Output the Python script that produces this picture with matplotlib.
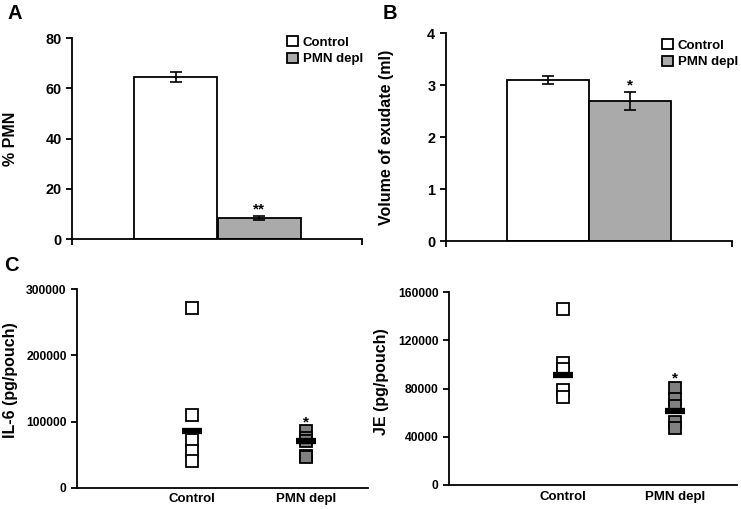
import matplotlib.pyplot as plt
import numpy as np

plt.rcParams['font.family'] = ['Liberation Sans', 'DejaVu Sans']
plt.rcParams['font.weight'] = 'bold'

# panel A / B bar data
groups = ["Control", "PMN depl"]
pmn_mean = [64.5, 8.6]
pmn_err = [2.0, 0.8]
vol_mean = [3.10, 2.70]
vol_err = [0.08, 0.17]

# panel C / D individual values
il6_control = [271000, 110000, 72000, 55000, 41000]
il6_pmn = [85000, 75000, 70000, 48000, 46000]
il6_means = [86000, 70500]
je_control = [146500, 101000, 96000, 79000, 73000]
je_pmn = [80500, 71000, 66000, 52000, 47000]
je_means = [91500, 61500]

bar_colors = ["white", "#aaaaaa"]
dot_colors = ["white", "#808080"]

W, H = 741, 509
fig = plt.figure(figsize=(W / 100, H / 100), dpi=100)


def style_axes(ax, ylabel, label_x, label_y, ticksize):
    for s in ["top", "right"]:
        ax.spines[s].set_visible(False)
    for s in ["left", "bottom"]:
        ax.spines[s].set_linewidth(1.3)
    ax.tick_params(axis="both", direction="out", width=1.3, length=4, labelsize=ticksize)
    for lab in ax.get_yticklabels():
        lab.set_fontweight("bold")
    ax.set_ylabel(ylabel, fontsize=11.5, fontweight="bold")
    ax.yaxis.set_label_coords(label_x, label_y)


def bar_panel(rect, means, errs, ylim, yticks, ylabel, label_x, star, star_y, leg_xy):
    ax = fig.add_axes(rect)
    centers = [0.357, 0.645]
    for i in range(2):
        ax.bar(centers[i], means[i], width=0.287, color=bar_colors[i],
               edgecolor="black", linewidth=1.3, label=groups[i], zorder=2)
        ax.errorbar(centers[i], means[i], yerr=errs[i], fmt="none", ecolor="black",
                    elinewidth=1.2, capsize=4, capthick=1.2, zorder=3)
    ax.text(centers[1], star_y, star, ha="center", va="bottom", fontsize=11, fontweight="bold")
    ax.set_xlim(0, 1)
    ax.set_ylim(*ylim)
    ax.set_yticks(yticks)
    ax.set_xticks([0, 1])
    ax.set_xticklabels(["", ""])
    style_axes(ax, ylabel, label_x, 0.5, 10.4)
    leg = ax.legend(loc="upper left", bbox_to_anchor=(leg_xy[0] / W, 1 - leg_xy[1] / H),
                    bbox_transform=fig.transFigure, frameon=False, borderpad=0,
                    borderaxespad=0, fontsize=9.5, handlelength=0.8, handleheight=0.8,
                    handletextpad=0.4, labelspacing=0.3)
    for t in leg.get_texts():
        t.set_fontweight("bold")
    return ax


def dot_panel(rect, ctrl, pmn, means, ylim, yticks, ylabel, label_x, label_y, star_y):
    ax = fig.add_axes(rect)
    xs = [0.395, 0.785]
    for i, vals in enumerate([ctrl, pmn]):
        ax.plot([xs[i]] * len(vals), vals, "s", markersize=8, markerfacecolor=dot_colors[i],
                markeredgecolor="black", markeredgewidth=1.3, linestyle="none", zorder=2)
        ax.plot(xs[i], means[i], marker="_", markersize=15, markeredgewidth=4.5,
                color="black", zorder=3)
    ax.text(xs[1], star_y, "*", ha="center", va="bottom", fontsize=11, fontweight="bold")
    ax.set_xlim(0, 1)
    ax.set_ylim(*ylim)
    ax.set_yticks(yticks)
    ax.set_xticks(xs)
    ax.set_xticklabels(groups, fontsize=9.5, fontweight="bold")
    style_axes(ax, ylabel, label_x, label_y, 8.7)
    ax.tick_params(axis="x", length=0, pad=4, labelsize=9.5)
    return ax


bar_panel([0.0976, 0.530, 0.391, 0.395], pmn_mean, pmn_err, (0, 80), [0, 20, 40, 60, 80],
          "% PMN", -0.186, "**", 9.2, (287, 36))
bar_panel([0.6015, 0.5265, 0.386, 0.408], vol_mean, vol_err, (0, 4), [0, 1, 2, 3, 4],
          "Volume of exudate (ml)", -0.18, "*", 2.86, (662, 39))
dot_panel([0.104, 0.0418, 0.393, 0.390], il6_control, il6_pmn, il6_means, (0, 300000),
          [0, 100000, 200000, 300000], "IL-6 (pg/pouch)", -0.203, 0.543, 88000)
dot_panel([0.606, 0.0472, 0.389, 0.3785], je_control, je_pmn, je_means, (0, 160000),
          [0, 40000, 80000, 120000, 160000], "JE (pg/pouch)", -0.209, 0.534, 82500)

# panel letters
fig.text(0.010, 0.992, "A", fontsize=14.5, fontweight="bold", va="top")
fig.text(0.516, 0.992, "B", fontsize=14.5, fontweight="bold", va="top")
fig.text(0.006, 0.497, "C", fontsize=14.5, fontweight="bold", va="top")

fig.savefig("out.png", dpi=100)
